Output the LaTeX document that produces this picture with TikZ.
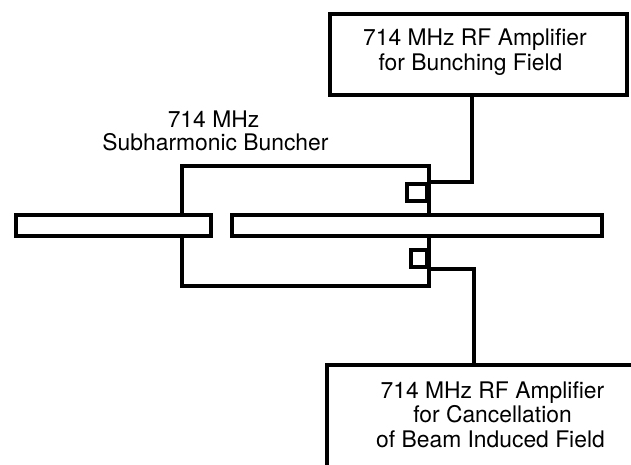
\documentclass[tikz,border=0pt]{standalone}
\usepackage{fontspec}
\setmainfont{TeX Gyre Heros}
\usetikzlibrary{positioning,calc}

\tikzset{
  wall/.style={line width=0.8mm, black, line cap=butt},
  ampbox/.style={draw=black, line width=0.8mm, inner sep=0pt},
  tubebox/.style={draw=black, line width=0.8mm, inner sep=0pt, minimum height=4.2mm},
  couplerbox/.style={draw=black, line width=0.8mm, inner sep=0pt},
  lbl/.style={font=\fontsize{13}{14}\selectfont, align=center, inner sep=0pt}
}

\begin{document}
\begin{tikzpicture}[x=0.2mm, y=-0.2mm]
  \useasboundingbox (0,0) rectangle (631,465);

  % Amplifier boxes
  \node[ampbox, minimum width=59.4mm, minimum height=16.2mm] (bunchamp) at (478.5, 54.5) {};
  \node[lbl] (bunchtext) at (475, 52) {714 MHz RF Amplifier\\for Bunching Field\hspace*{1.8mm}};

  \coordinate (cancelcorner) at (327, 365);
  \draw[wall] (cancelcorner |- 0,465) -- (cancelcorner) -- (631, 365);
  \node[lbl] (canceltext) at (492.5, 414.5) {714 MHz RF Amplifier\\for Cancellation\hspace*{2.2mm}\\of Beam Induced Field\hspace*{0.8mm}};

  % Beam tubes
  \node[tubebox, minimum width=39mm, anchor=west] (lefttube) at (14, 225.5) {};
  \node[tubebox, minimum width=74mm, anchor=west] (righttube) at (230, 225.5) {};

  % Buncher cavity walls
  \coordinate (cavnw) at (182, 166);
  \coordinate (cavne) at (429, 166);
  \coordinate (cavsw) at (182, 286);
  \coordinate (cavse) at (429, 286);
  \draw[wall] (cavnw |- lefttube.north) -- (cavnw) -- (cavne) -- (cavne |- righttube.north);
  \draw[wall] (cavsw |- lefttube.south) -- (cavsw) -- (cavse) -- (cavse |- righttube.south);

  % Coupling loops
  \node[couplerbox, minimum width=4mm, minimum height=3.4mm, anchor=east] (topcoupler) at (429, 192) {};
  \node[couplerbox, minimum width=3.2mm, minimum height=3.5mm, anchor=east] (botcoupler) at (429, 258.5) {};

  % Feed lines
  \coordinate (bunchfeed) at (472, 95);
  \coordinate (cancelfeed) at (474, 365);
  \draw[wall] (bunchfeed) |- (topcoupler.north east);
  \draw[wall] (cancelfeed) |- (botcoupler.south east);

  % Buncher label
  \node[lbl, font=\fontsize{13}{13}\selectfont] (bunchlabel) at (215.5, 130.5) {714 MHz\hspace*{0.8mm}\\Subharmonic Buncher};
\end{tikzpicture}
\end{document}
